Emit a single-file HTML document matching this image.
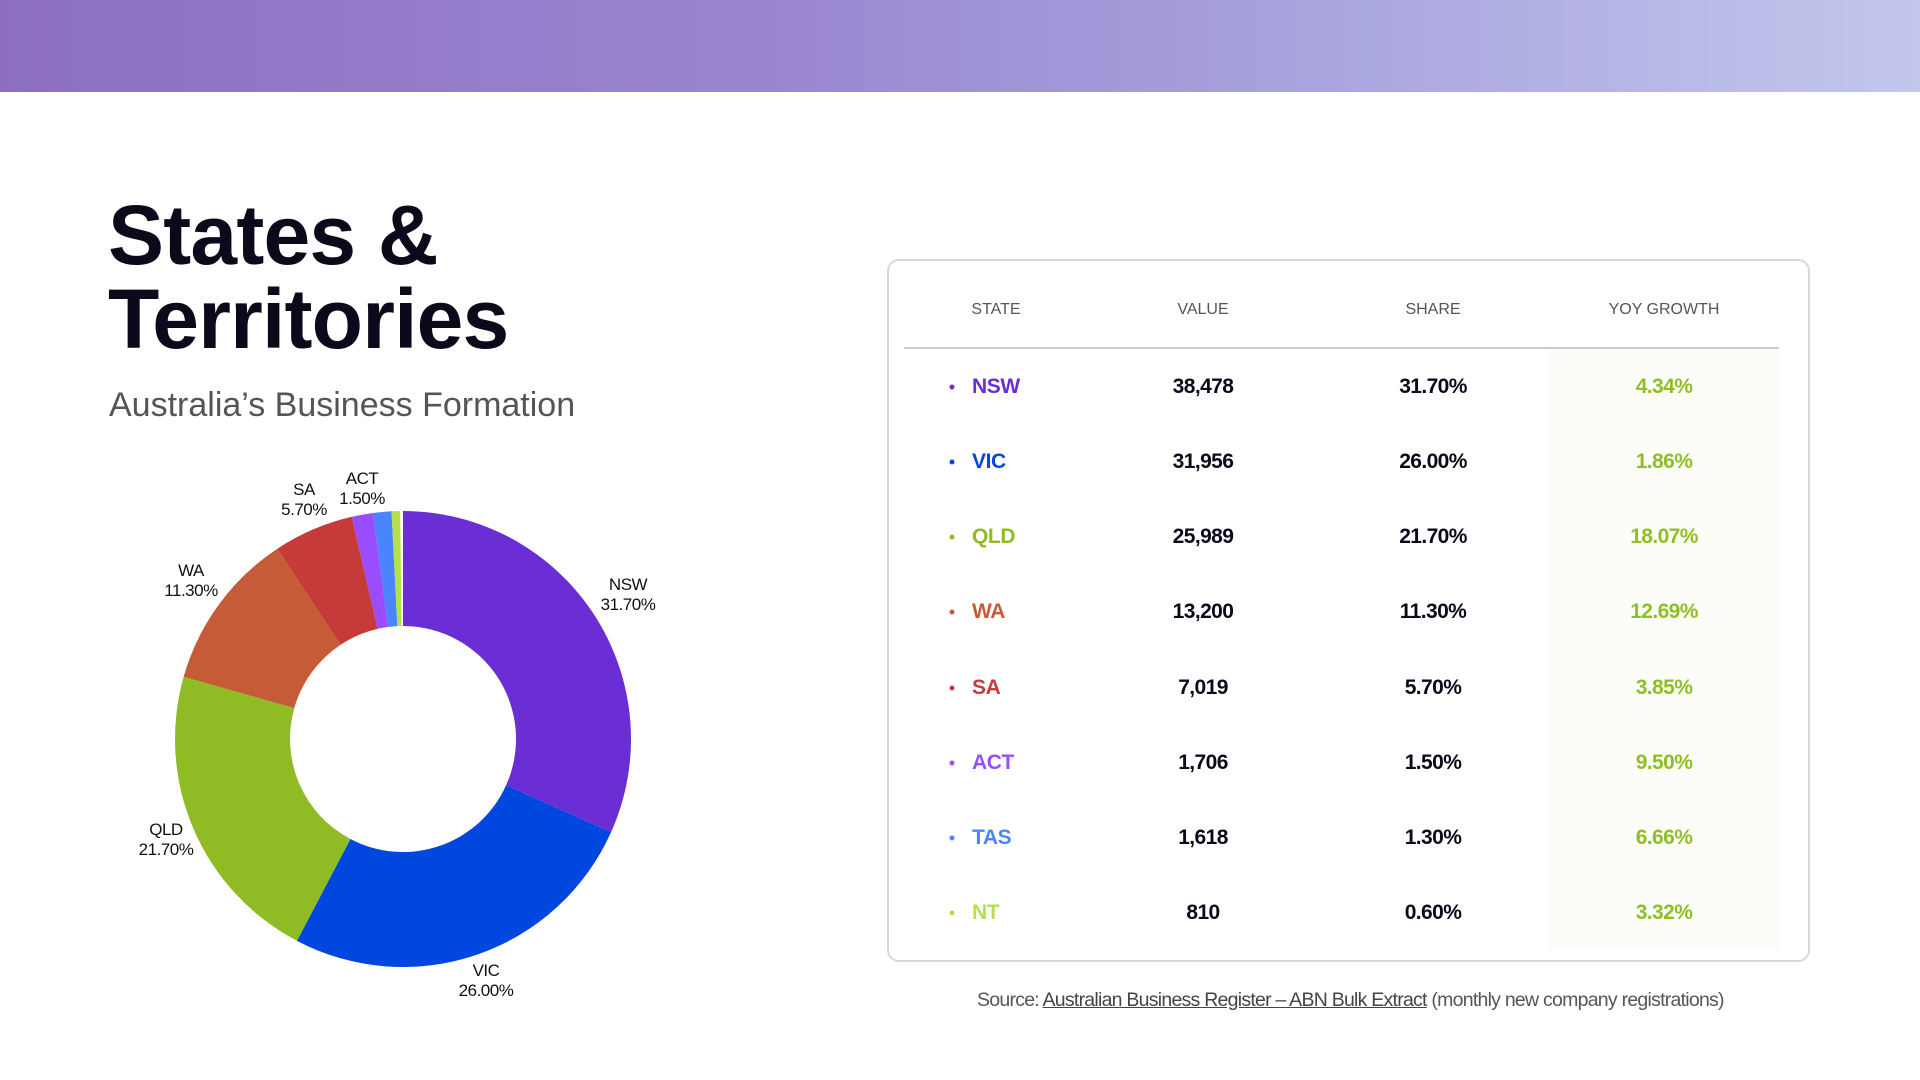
<!DOCTYPE html>
<html><head><meta charset="utf-8"><style>
*{margin:0;padding:0;box-sizing:border-box}
body{width:1920px;height:1080px;background:#fff;position:relative;overflow:hidden;font-family:"Liberation Sans",sans-serif;color:#0a0a1a}
.banner{position:absolute;left:0;top:0;width:1920px;height:92px;background:linear-gradient(90deg,#8c6fc2 0%,#9a86d0 40%,#a9a6df 70%,#c3c7ec 100%)}
.t{position:absolute;left:108px;font-weight:bold;font-size:84px;letter-spacing:-0.8px;color:#0a0a1a;line-height:1}
.sub{position:absolute;left:109px;top:386px;font-size:34px;color:#555;letter-spacing:0px}
.box{position:absolute;left:887px;top:259px;width:923px;height:703px;border:2px solid #d8d8d8;border-radius:12px}
.hl{position:absolute;left:1548px;top:349px;width:231px;height:601px;background:#fcfdf8}
.hline{position:absolute;left:904px;top:347px;width:875px;height:1.5px;background:#ccc}
.c{position:absolute;transform:translate(-50%,-50%);white-space:nowrap}
.h{font-size:16px;color:#555}
.r{font-size:21px;font-weight:bold;letter-spacing:-0.6px}
.st{position:absolute;transform:translateY(-50%);font-size:21px;font-weight:bold;letter-spacing:-0.4px}
.dot{position:absolute;width:5px;height:5px;border-radius:50%;transform:translate(-50%,-50%)}
.g{color:#8fbf24}
.src{position:absolute;left:977px;top:989px;font-size:19.5px;color:#555;letter-spacing:-0.75px;white-space:nowrap}
.src u{color:#444}
.lb{position:absolute;transform:translate(-50%,-50%);font-size:17px;text-align:center;line-height:20px;color:#111;letter-spacing:-0.5px}
</style></head><body>
<div class="banner"></div>
<div class="t" style="top:193px">States &amp;</div>
<div class="t" style="top:277px">Territories</div>
<div class="sub">Australia’s Business Formation</div>

<svg width="1920" height="1080" style="position:absolute;left:0;top:0" id="s"></svg>
<div class="lb" style="left:628px;top:595px">NSW<br>31.70%</div>
<div class="lb" style="left:486px;top:981px">VIC<br>26.00%</div>
<div class="lb" style="left:166px;top:840px">QLD<br>21.70%</div>
<div class="lb" style="left:191px;top:581px">WA<br>11.30%</div>
<div class="lb" style="left:304px;top:500px">SA<br>5.70%</div>
<div class="lb" style="left:362px;top:489px">ACT<br>1.50%</div>

<div class="box"></div>
<div class="hl"></div>
<div class="hline"></div>
<div class="c h" style="left:996px;top:310px">STATE</div>
<div class="c h" style="left:1203px;top:310px">VALUE</div>
<div class="c h" style="left:1433px;top:310px">SHARE</div>
<div class="c h" style="left:1664px;top:310px">YOY GROWTH</div>
<div id="rows"></div>
<div class="src">Source: <u>Australian Business Register – ABN Bulk Extract</u> (monthly new company registrations)</div>
<script>
var d=[["NSW","38,478","31.70%","4.34%","#6a2ed4",31.7],["VIC","31,956","26.00%","1.86%","#0047e0",26],["QLD","25,989","21.70%","18.07%","#8fbb25",21.7],["WA","13,200","11.30%","12.69%","#c65b38",11.3],["SA","7,019","5.70%","3.85%","#c63a3a",5.7],["ACT","1,706","1.50%","9.50%","#9a4dff",1.5],["TAS","1,618","1.30%","6.66%","#4a85ff",1.3],["NT","810","0.60%","3.32%","#b5e04a",0.6]];
var ys=[386.5,461.5,536.5,611.5,687.5,762.5,837.5,912.5],h="";
d.forEach(function(r,i){var y=ys[i];
h+='<div class="dot" style="left:952px;top:'+y+'px;background:'+r[4]+'"></div>';
h+='<div class="st" style="left:972px;top:'+y+'px;color:'+r[4]+'">'+r[0]+'</div>';
h+='<div class="c r" style="left:1203px;top:'+y+'px">'+r[1]+'</div>';
h+='<div class="c r" style="left:1433px;top:'+y+'px">'+r[2]+'</div>';
h+='<div class="c r g" style="left:1664px;top:'+y+'px">'+r[3]+'</div>';});
document.getElementById("rows").innerHTML=h;
var cx=403,cy=739,R=228,ri=113,a=0,s="";
function p(r,t){return [cx+r*Math.sin(t),cy-r*Math.cos(t)];}
d.forEach(function(r){var b=a+r[5]/100*2*Math.PI,l=(b-a)>Math.PI?1:0;
var p1=p(R,a),p2=p(R,b),p3=p(ri,b),p4=p(ri,a);
s+='<path fill="'+r[4]+'" d="M'+p1+' A'+R+' '+R+' 0 '+l+' 1 '+p2+' L'+p3+' A'+ri+' '+ri+' 0 '+l+' 0 '+p4+'Z"/>';a=b;});
document.getElementById("s").innerHTML=s;
</script>
</body></html>
